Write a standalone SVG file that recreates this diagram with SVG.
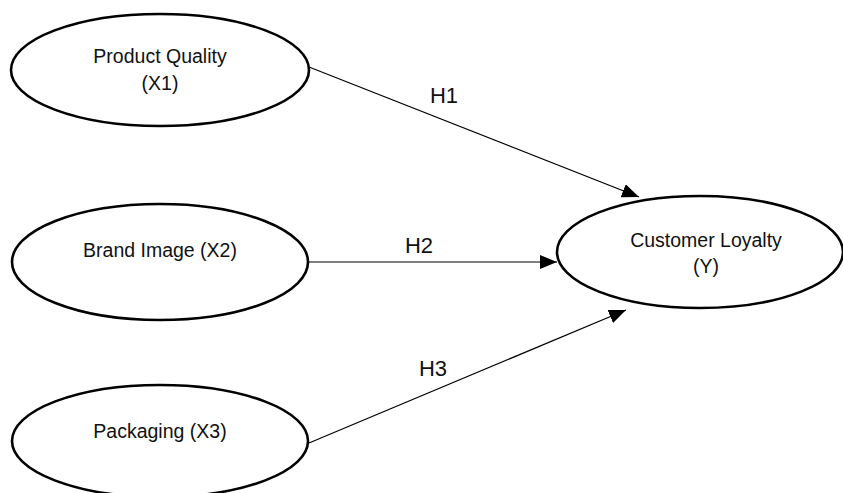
<svg xmlns="http://www.w3.org/2000/svg" width="843" height="493" viewBox="0 0 843 493">
<defs>
<style>
.node{fill:#fff;stroke:#000;stroke-width:2.6}
.t{font-family:"Liberation Sans",Arial,sans-serif;font-size:19.5px;fill:#111;text-anchor:middle}
.h{font-family:"Liberation Sans",Arial,sans-serif;font-size:22px;fill:#111;text-anchor:middle}
.c{stroke:#000;stroke-width:1.2;fill:none;marker-end:url(#ah)}
</style>
<marker id="ah" markerUnits="userSpaceOnUse" markerWidth="18" markerHeight="14" refX="17" refY="7" orient="auto">
<path d="M0,0 L17,7 L0,14 Z" fill="#000"/>
</marker>
</defs>
<g id="connectors">
<line class="c" x1="309" y1="67" x2="639" y2="197"/>
<line class="c" x1="309" y1="262" x2="557" y2="262"/>
<line class="c" x1="309" y1="443" x2="626" y2="310"/>
<text class="h" x="444" y="103">H1</text>
<text class="h" x="419" y="253">H2</text>
<text class="h" x="433" y="376">H3</text>
</g>
<g id="x1">
<ellipse class="node" cx="160" cy="70" rx="149" ry="56"/>
<text class="t" x="160" y="63">Product Quality</text>
<text class="t" x="160" y="90">(X1)</text>
</g>
<g id="x2">
<ellipse class="node" cx="160" cy="262" rx="148" ry="58"/>
<text class="t" x="160" y="257">Brand Image (X2)</text>
</g>
<g id="x3">
<ellipse class="node" cx="160" cy="441" rx="148" ry="56"/>
<text class="t" x="160" y="438">Packaging (X3)</text>
</g>
<g id="y">
<ellipse class="node" cx="700" cy="252" rx="143" ry="56"/>
<text class="t" x="706" y="247">Customer Loyalty</text>
<text class="t" x="706" y="273">(Y)</text>
</g>
</svg>
